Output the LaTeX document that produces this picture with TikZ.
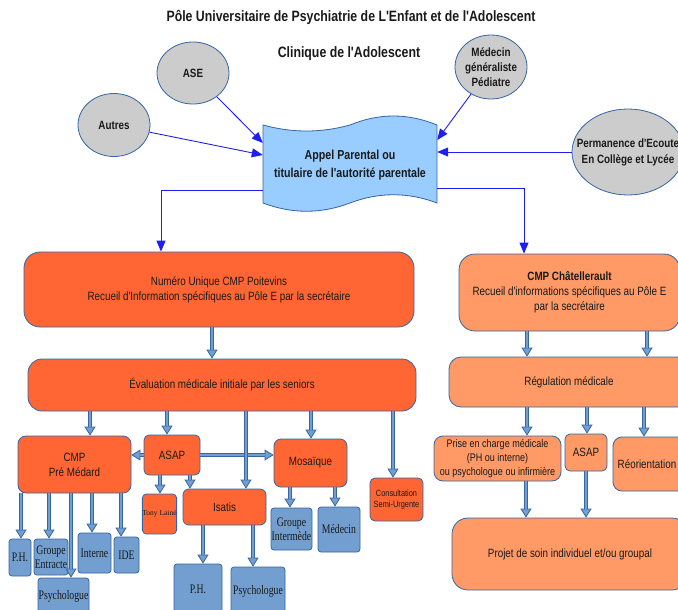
\documentclass[tikz,border=0pt]{standalone}
\usepackage{fontspec}
\setmainfont{Liberation Sans}
\newfontfamily\nsans{Liberation Sans}[FakeStretch=0.82]
\newfontfamily\nserif{Liberation Serif}[FakeStretch=0.75]
\newfontfamily\rserif{Liberation Serif}
\usetikzlibrary{shapes.geometric,arrows.meta}

\definecolor{edgeblue}{HTML}{3465A4}
\definecolor{boxblue}{HTML}{729FCF}
\definecolor{orangeA}{HTML}{FF6633}
\definecolor{orangeB}{HTML}{FF9966}
\definecolor{circgray}{HTML}{CCCCCC}
\definecolor{wavefill}{HTML}{99CCFF}
\definecolor{linkblue}{HTML}{1E1EF0}
\definecolor{ink}{HTML}{1A1A1A}

\newcommand\sansat[2]{\nsans\fontsize{#1}{#2}\selectfont}
\newcommand\serifat[2]{\nserif\fontsize{#1}{#2}\selectfont}

\begin{document}
\begin{tikzpicture}[x=1pt,y=-1pt,
  dims/.style 2 args={minimum width=#1pt, minimum height=#2pt},
  bubble/.style={ellipse, draw=edgeblue, fill=circgray, line width=0.8pt, inner sep=0pt},
  bubbletext/.style={align=center, text=ink, inner sep=0pt, font=\sansat{12}{15}\bfseries},
  poitbox/.style={rectangle, draw=edgeblue, fill=orangeA, line width=0.8pt, rounded corners=8pt,
    inner sep=0pt, align=center, text=ink, font=\sansat{12}{15}},
  chatbox/.style={poitbox, fill=orangeB},
  staffbox/.style={rectangle, draw=edgeblue, fill=boxblue, line width=0.8pt, rounded corners=3pt,
    inner sep=0pt, align=center, text=ink, font=\serifat{13}{14}},
  fat/.style={draw=edgeblue, line width=4.2pt,
    -{Triangle[length=9pt, width=11pt, fill=boxblue, line width=0.8pt]},
    postaction={draw=boxblue, line width=2.6pt, -, shorten >=8.5pt}},
  callarrow/.style={draw=linkblue, line width=0.9pt, -{Triangle[length=11pt, width=9pt]}}
]
\path[use as bounding box] (0,0) rectangle (678,610);
\clip (0,0) rectangle (678,610);

% headings
\node[font=\sansat{15}{18}\bfseries, text=ink] (title) at (351,17)
  {Pôle Universitaire de Psychiatrie de L'Enfant et de l'Adolescent};
\node[font=\sansat{15}{18}\bfseries, text=ink] (clinique) at (349,54)
  {Clinique de l'Adolescent};

% origins of the call
\node[bubble, dims={72}{62}, label={[bubbletext]center:ASE}] (ase) at (193,73) {};
\node[bubble, dims={72}{63}, label={[bubbletext]center:Autres}] (autres) at (114,125) {};
\node[bubble, dims={72}{64}, label={[bubbletext]center:Médecin\\généraliste\\Pédiatre}] (med) at (491,67) {};
\node[bubble, dims={112}{86}, label={[bubbletext, font=\sansat{12}{16}\bfseries]center:Permanence d'Ecoute\\En Collège et Lycée}] (perm) at (628,152) {};

% parental call (punched tape shape)
\draw[draw=edgeblue, fill=wavefill, line width=0.8pt]
  (263,125) .. controls (292,133) and (321,133) .. (350,125)
            .. controls (379,113) and (408,113) .. (437,125)
  -- (437,203) .. controls (408,192) and (379,192) .. (350,203)
            .. controls (321,214) and (292,214) .. (263,203) -- cycle;
\node[dims={174}{80}, inner sep=0pt, align=center, text=ink, font=\sansat{13}{18}\bfseries] (appel) at (350,165)
  {Appel Parental ou\\titulaire de l'autorité parentale};

% Poitiers branch
\node[poitbox, dims={390}{75}, rounded corners=16pt] (num) at (219,289.5)
  {Numéro Unique CMP Poitevins\\Recueil d'Information spécifiques au Pôle E par la secrétaire};
\node[poitbox, dims={388}{52}, rounded corners=14pt] (eval) at (222,385)
  {Évaluation médicale initiale par les seniors};
\node[poitbox, dims={113}{57}, rounded corners=8pt] (cmpm) at (74.5,464.5) {CMP\\Pré Médard};
\node[poitbox, dims={56}{40}, rounded corners=5pt] (asap) at (172,455) {ASAP};
\node[poitbox, dims={73}{48}, rounded corners=7pt] (mos) at (310.5,463) {Mosaïque};
\node[poitbox, dims={53}{43}, rounded corners=5pt, font=\sansat{9}{11}] (cons) at (396.5,499.5)
  {Consultation\\Semi-Urgente};
\node[poitbox, dims={33}{40}, rounded corners=4pt, font=\rserif\fontsize{7.5}{9}\selectfont] (tony) at (159.5,514)
  {Tony Lainé};
\node[poitbox, dims={83}{36}, rounded corners=6pt] (isatis) at (224.5,507) {Isatis};

% staff of each unit
\node[staffbox, dims={22}{37}] (ph1) at (20,557.5) {P.H.};
\node[staffbox, dims={34}{36}] (ge) at (51,557) {Groupe\\Entracte};
\node[staffbox, dims={51}{37}] (psy1) at (63.5,596.5) {Psychologue};
\node[staffbox, dims={33}{40}] (int) at (94.5,553) {Interne};
\node[staffbox, dims={25}{36}] (ide) at (126.5,555) {IDE};
\node[staffbox, dims={48}{51}] (ph2) at (198,589.5) {P.H.};
\node[staffbox, dims={54}{48}] (psy2) at (258,591) {Psychologue};
\node[staffbox, dims={41}{42}] (gi) at (291.5,529) {Groupe\\Intermède};
\node[staffbox, dims={42}{45}] (medc) at (339,529.5) {Médecin};

% Châtellerault branch
\node[chatbox, dims={221}{77}, rounded corners=16pt] (chat) at (569.5,292.5)
  {{\bfseries CMP Châtellerault}\\Recueil d'informations spécifiques au Pôle E\\par la secrétaire};
\node[chatbox, dims={240}{50}, rounded corners=12pt] (reg) at (569,382) {Régulation médicale};
\node[chatbox, dims={127}{45}, rounded corners=9pt, font=\sansat{11}{14}] (prise) at (497.5,458.5)
  {Prise en charge médicale\\(PH ou interne)\\ou psychologue ou infirmière};
\node[chatbox, dims={42}{37}, rounded corners=5pt] (asap2) at (586,452.5) {ASAP};
\node[chatbox, dims={77}{54}, rounded corners=9pt] (reor) at (651.5,464) {Réorientation\hspace*{9pt}};
\node[chatbox, dims={236}{72}, rounded corners=16pt] (projet) at (570,554)
  {Projet de soin individuel et/ou groupal};

% incoming calls
\draw[callarrow] (ase) -- ([yshift=22pt]appel.west);
\draw[callarrow] (autres) -- ([yshift=10pt]appel.west);
\draw[callarrow] (med) -- ([yshift=25pt]appel.east);
\draw[callarrow] (perm) -- (perm -| appel.east);
\draw[callarrow] ([yshift=-25pt]appel.west) -| ([xshift=-58pt]num.north);
\draw[callarrow] ([yshift=-23pt]appel.east) -| ([xshift=-45.5pt]chat.north);

% Poitiers flow
\draw[fat] (num.south -| 212,0) -- (eval.north -| 212,0);
\draw[fat] (eval.south -| 90,0) -- (cmpm.north -| 90,0);
\draw[fat] (eval.south -| 167,0) -- (asap.north -| 167,0);
\draw[fat] (eval.south -| 311,0) -- (mos.north -| 311,0);
\draw[fat] (eval.south -| 393,0) -- (cons.north -| 393,0);
\draw[fat] (asap.west) -- (asap.west -| cmpm.east);
\draw[fat] (asap.east) -- (asap.east -| mos.west);
\draw[fat] (eval.south -| 246,0) -- (isatis.north -| 246,0);
\draw[fat] (asap.south -| 160,0) -- (tony.north -| 160,0);
\draw[fat] (asap.south -| 190,0) -- (isatis.north -| 190,0);
\draw[fat] (isatis.south -| 203,0) -- (ph2.north -| 203,0);
\draw[fat] (isatis.south -| 253,0) -- (psy2.north -| 253,0);
\draw[fat] (mos.south -| 290,0) -- (gi.north -| 290,0);
\draw[fat] (mos.south -| 335,0) -- (medc.north -| 335,0);
\draw[fat] (cmpm.south -| 21,0) -- (ph1.north -| 21,0);
\draw[fat] (cmpm.south -| 49,0) -- (ge.north -| 49,0);
\draw[fat] (cmpm.south -| 92,0) -- (int.north -| 92,0);
\draw[fat] (cmpm.south -| 121,0) -- (ide.north -| 121,0);
\draw[fat] (cmpm.south -| 71,0) -- (psy1.north -| 71,0);

% Châtellerault flow
\draw[fat] (chat.south -| 527,0) -- (reg.north -| 527,0);
\draw[fat] (chat.south -| 647,0) -- (reg.north -| 647,0);
\draw[fat] (reg.south -| 527,0) -- (prise.north -| 527,0);
\draw[fat] (reg.south -| 587,0) -- (asap2.north -| 587,0);
\draw[fat] (reg.south -| 644,0) -- (reor.north -| 644,0);
\draw[fat] (prise.south -| 526,0) -- (projet.north -| 526,0);
\draw[fat] (asap2.south -| 586,0) -- (projet.north -| 586,0);
\end{tikzpicture}
\end{document}
